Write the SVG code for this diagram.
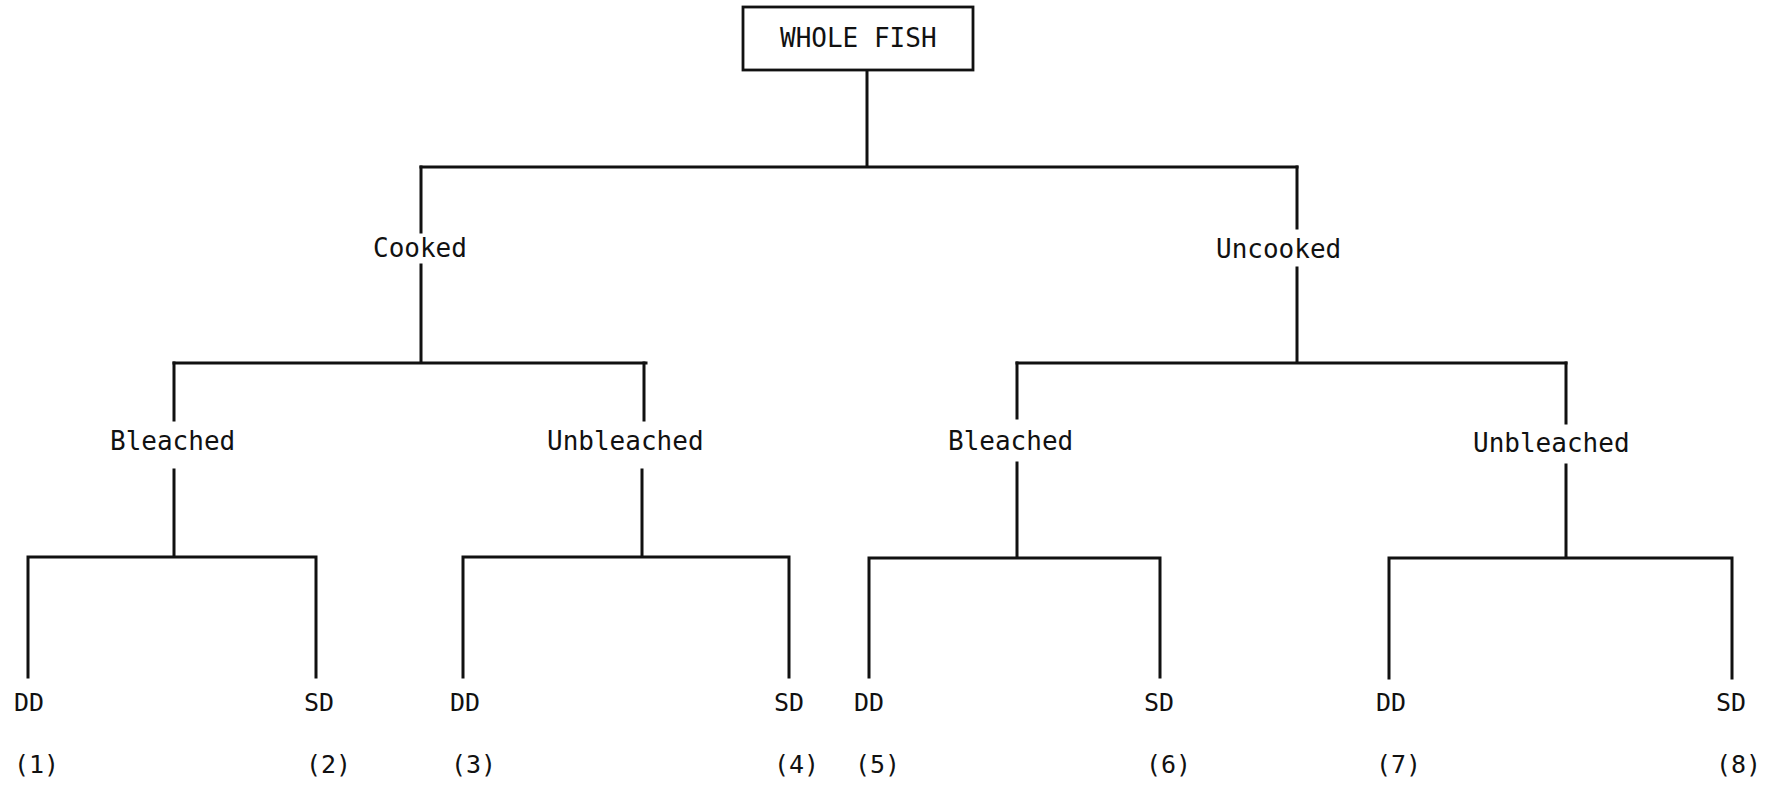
<svg xmlns="http://www.w3.org/2000/svg" width="1773" height="786" viewBox="0 0 1773 786">
<style>
text{font-family:"DejaVu Sans Mono","Liberation Mono",monospace;fill:#111}
.lbl{font-size:26px}
.leaf{font-size:25px}
.ln{stroke:#111;stroke-width:3;fill:none;stroke-linecap:square}
</style>
<rect width="1773" height="786" fill="#fff"/>
<g id="connectors" class="ln">
<path class="ln" d="M867 71V167M421 167H1297"/>
<path class="ln" d="M421 167V232M421 265V363M174 363H646"/>
<path class="ln" d="M1297 167V228M1297 268V363M1017 363H1566"/>
<path class="ln" d="M174 363V420M174 470V557M28 557H316M28 557V677M316 557V677"/>
<path class="ln" d="M644 363V420M642 470V557M463 557H789M463 557V677M789 557V677"/>
<path class="ln" d="M1017 363V418M1017 463V558M869 558H1160M869 558V677M1160 558V677"/>
<path class="ln" d="M1566 363V423M1566 465V558M1389 558H1732M1389 558V678M1732 558V678"/>
</g>
<g id="whole-fish">
<rect x="743" y="7" width="230" height="63" fill="#fff" stroke="#111" stroke-width="2.8"/>
<text class="lbl" x="780" y="47">WHOLE FISH</text>
</g>
<g id="cooked"><text class="lbl" x="373" y="257">Cooked</text></g>
<g id="uncooked"><text class="lbl" x="1216" y="258">Uncooked</text></g>
<g id="cooked-bleached"><text class="lbl" x="110" y="450">Bleached</text></g>
<g id="cooked-unbleached"><text class="lbl" x="547" y="450">Unbleached</text></g>
<g id="uncooked-bleached"><text class="lbl" x="948" y="450">Bleached</text></g>
<g id="uncooked-unbleached"><text class="lbl" x="1473" y="452">Unbleached</text></g>
<g id="leaf1"><text class="leaf" x="14" y="711">DD</text><text class="leaf" x="14" y="773">(1)</text></g>
<g id="leaf2"><text class="leaf" x="304" y="711">SD</text><text class="leaf" x="306" y="773">(2)</text></g>
<g id="leaf3"><text class="leaf" x="450" y="711">DD</text><text class="leaf" x="451" y="773">(3)</text></g>
<g id="leaf4"><text class="leaf" x="774" y="711">SD</text><text class="leaf" x="774" y="773">(4)</text></g>
<g id="leaf5"><text class="leaf" x="854" y="711">DD</text><text class="leaf" x="855" y="773">(5)</text></g>
<g id="leaf6"><text class="leaf" x="1144" y="711">SD</text><text class="leaf" x="1146" y="773">(6)</text></g>
<g id="leaf7"><text class="leaf" x="1376" y="711">DD</text><text class="leaf" x="1376" y="773">(7)</text></g>
<g id="leaf8"><text class="leaf" x="1716" y="711">SD</text><text class="leaf" x="1716" y="773">(8)</text></g>
</svg>
